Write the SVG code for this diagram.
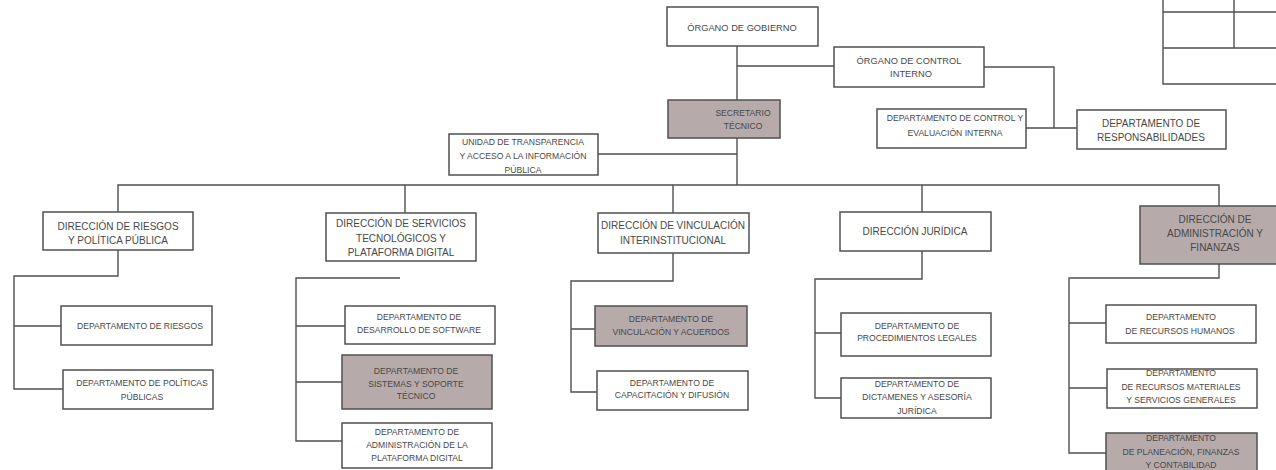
<svg xmlns="http://www.w3.org/2000/svg" width="1276" height="470" viewBox="0 0 1276 470">
<style>
.b{fill:#fff;stroke:#505050;stroke-width:1.5}
.g{fill:#b6aaab;stroke:#505050;stroke-width:1.5}
.c{fill:none;stroke:#505050;stroke-width:1.4}
text{font-family:"Liberation Sans",Arial,sans-serif;fill:#484848;text-anchor:middle}
.s{font-size:8.6px}
.m{font-size:9.3px}
.l{font-size:10px}
</style>
<rect width="1276" height="470" fill="#fff"/>
<g id="table" class="c">
<path d="M1163 0 V84 H1276 M1163 12 H1276 M1163 48 H1276 M1234 0 V48"/>
</g>
<g id="connectors" class="c">
<path d="M737 46 V100 M737 66 H834"/>
<path d="M984 67 H1054 V128 M1026 128 H1077"/>
<path d="M737 138 V185 M598 154 H737"/>
<path d="M118 212 V185 H1219 V206 M405 185 V213 M673 185 V213 M922 185 V212"/>
<path d="M118 250 V276 H14 V389 H63 M14 326 H61"/>
<path d="M400 278 H296 V441 H342 M296 326 H345 M296 382 H342"/>
<path d="M673 253 V281 H571 V392 H597 M571 329 H595"/>
<path d="M922 251 V279 H815 V398 H841 M815 333 H841"/>
<path d="M1219 264 V278 H1069 V453 H1106 M1069 323 H1106 M1069 388 H1107"/>
</g>
<g id="organo-gobierno"><rect class="b" x="667" y="7" width="151" height="39"/><text class="m" x="742" y="31">ÓRGANO DE GOBIERNO</text></g>
<g id="organo-control"><rect class="b" x="834" y="47" width="150" height="40"/><text class="m" x="909" y="64">ÓRGANO DE CONTROL</text><text class="m" x="911" y="77">INTERNO</text></g>
<g id="secretario"><rect class="g" x="668" y="100" width="112" height="38"/><text class="s" x="743" y="116">SECRETARIO</text><text class="s" x="743" y="129">TÉCNICO</text></g>
<g id="unidad-transparencia"><rect class="b" x="449" y="134" width="149" height="41"/><text class="s" x="523" y="145">UNIDAD DE TRANSPARENCIA</text><text class="s" x="523" y="159">Y ACCESO A LA INFORMACIÓN</text><text class="s" x="523" y="173">PÚBLICA</text></g>
<g id="dept-control"><rect class="b" x="877" y="109" width="149" height="39"/><text class="s" x="955" y="121">DEPARTAMENTO DE CONTROL Y</text><text class="s" x="955" y="136">EVALUACIÓN INTERNA</text></g>
<g id="dept-responsabilidades"><rect class="b" x="1077" y="110" width="149" height="39"/><text class="l" x="1151" y="127">DEPARTAMENTO DE</text><text class="l" x="1151" y="141">RESPONSABILIDADES</text></g>
<g id="dir-riesgos"><rect class="b" x="43" y="212" width="150" height="38"/><text class="l" x="118" y="230">DIRECCIÓN DE RIESGOS</text><text class="l" x="118" y="244">Y POLÍTICA PÚBLICA</text></g>
<g id="dept-riesgos"><rect class="b" x="61" y="306" width="151" height="39"/><text class="s" x="140" y="329">DEPARTAMENTO DE RIESGOS</text></g>
<g id="dept-politicas"><rect class="b" x="63" y="370" width="150" height="39"/><text class="s" x="142" y="386">DEPARTAMENTO DE POLÍTICAS</text><text class="s" x="142" y="400">PÚBLICAS</text></g>
<g id="dir-servicios"><rect class="b" x="326" y="213" width="150" height="48"/><text class="l" x="401" y="227">DIRECCIÓN DE SERVICIOS</text><text class="l" x="401" y="242">TECNOLÓGICOS Y</text><text class="l" x="401" y="256">PLATAFORMA DIGITAL</text></g>
<g id="dept-desarrollo"><rect class="b" x="345" y="306" width="150" height="38"/><text class="s" x="419" y="320">DEPARTAMENTO DE</text><text class="s" x="419" y="333">DESARROLLO DE SOFTWARE</text></g>
<g id="dept-sistemas"><rect class="g" x="342" y="355" width="150" height="54"/><text class="s" x="416" y="374">DEPARTAMENTO DE</text><text class="s" x="416" y="387">SISTEMAS Y SOPORTE</text><text class="s" x="416" y="399">TÉCNICO</text></g>
<g id="dept-admin-plataforma"><rect class="b" x="342" y="423" width="150" height="45"/><text class="s" x="417" y="435">DEPARTAMENTO DE</text><text class="s" x="417" y="448">ADMINISTRACIÓN DE LA</text><text class="s" x="417" y="461">PLATAFORMA DIGITAL</text></g>
<g id="dir-vinculacion"><rect class="b" x="598" y="213" width="151" height="40"/><text class="l" x="673" y="229">DIRECCIÓN DE VINCULACIÓN</text><text class="l" x="673" y="244">INTERINSTITUCIONAL</text></g>
<g id="dept-vinculacion"><rect class="g" x="595" y="306" width="152" height="40"/><text class="s" x="671" y="322">DEPARTAMENTO DE</text><text class="s" x="671" y="335">VINCULACIÓN Y ACUERDOS</text></g>
<g id="dept-capacitacion"><rect class="b" x="597" y="371" width="151" height="39"/><text class="s" x="672" y="386">DEPARTAMENTO DE</text><text class="s" x="672" y="398">CAPACITACIÓN Y DIFUSIÓN</text></g>
<g id="dir-juridica"><rect class="b" x="840" y="212" width="151" height="39"/><text class="l" x="915" y="235">DIRECCIÓN JURÍDICA</text></g>
<g id="dept-procedimientos"><rect class="b" x="841" y="313" width="150" height="43"/><text class="s" x="917" y="329">DEPARTAMENTO DE</text><text class="s" x="917" y="341">PROCEDIMIENTOS LEGALES</text></g>
<g id="dept-dictamenes"><rect class="b" x="841" y="378" width="150" height="40"/><text class="s" x="917" y="387">DEPARTAMENTO DE</text><text class="s" x="917" y="400">DICTAMENES Y ASESORÍA</text><text class="s" x="917" y="414">JURÍDICA</text></g>
<g id="dir-administracion"><rect class="g" x="1140" y="206" width="160" height="58"/><text class="l" x="1215" y="223">DIRECCIÓN DE</text><text class="l" x="1215" y="237">ADMINISTRACIÓN Y</text><text class="l" x="1215" y="251">FINANZAS</text></g>
<g id="dept-rh"><rect class="b" x="1106" y="305" width="150" height="38"/><text class="s" x="1181" y="320">DEPARTAMENTO</text><text class="s" x="1180" y="334">DE RECURSOS HUMANOS</text></g>
<g id="dept-rm"><rect class="b" x="1107" y="369" width="150" height="39"/><text class="s" x="1181" y="376">DEPARTAMENTO</text><text class="s" x="1181" y="390">DE RECURSOS MATERIALES</text><text class="s" x="1181" y="403">Y SERVICIOS GENERALES</text></g>
<g id="dept-planeacion"><rect class="g" x="1106" y="433" width="151" height="50"/><text class="s" x="1181" y="441">DEPARTAMENTO</text><text class="s" x="1181" y="455">DE PLANEACIÓN, FINANZAS</text><text class="s" x="1181" y="468">Y CONTABILIDAD</text></g>
</svg>
